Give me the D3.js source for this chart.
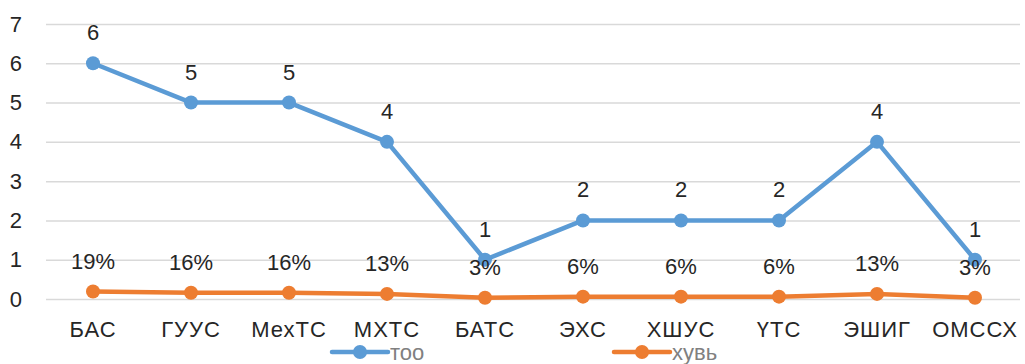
<!DOCTYPE html>
<html>
<head>
<meta charset="utf-8">
<script src="https://cdn.jsdelivr.net/npm/d3@7"></script>
<style>
  body { margin: 0; background: #fff; }
  text { font-family: 'Liberation Sans', Arial, sans-serif; }
</style>
</head>
<body>
<svg width="1025" height="364"></svg>
<script>
const categories = ['БАС', 'ГУУС', 'МехТС', 'МХТС', 'БАТС', 'ЭХС', 'ХШУС', 'ҮТС', 'ЭШИГ', 'ОМССХ'];
const tooValues = [6, 5, 5, 4, 1, 2, 2, 2, 4, 1];
const huviValues = [0.19, 0.16, 0.16, 0.13, 0.03, 0.06, 0.06, 0.06, 0.13, 0.03];
const yTicks = [0, 1, 2, 3, 4, 5, 6, 7];
const seriesNames = ['тоо', 'хувь'];

const svg = d3.select('svg');
const width = +svg.attr('width');
const margin = { top: 24, right: 1, left: 44 };
const innerWidth = width - margin.left - margin.right;
const plotBottom = 299;

const blue = '#5B9BD5';
const orange = '#ED7D31';
const fontSize = 22;

const xScale = d3.scaleBand().domain(categories).range([0, innerWidth]).padding(0);
const yScale = d3.scaleLinear().domain([0, 7]).range([plotBottom - margin.top, 0]);

const g = svg.append('g').attr('transform', `translate(${margin.left}, ${margin.top})`);

// grid + y labels
const yAxis = d3.axisLeft(yScale).tickValues(yTicks).tickFormat(d3.format('d'))
  .tickSize(-innerWidth + 4).tickPadding(22);
const ya = g.append('g').call(yAxis);
ya.select('.domain').remove();
ya.selectAll('.tick line').attr('stroke', '#d9d9d9').attr('stroke-width', 1.5).attr('x1', 2);
ya.selectAll('.tick text').attr('font-size', fontSize).attr('fill', '#262626')
  .attr('font-family', "'Liberation Sans', Arial, sans-serif");

// x labels
const xAxis = d3.axisBottom(xScale).tickSize(0).tickPadding(22);
const xa = g.append('g').attr('transform', `translate(0, ${yScale(0)})`).call(xAxis);
xa.select('.domain').remove();
xa.selectAll('.tick text').attr('font-size', fontSize).attr('fill', '#262626')
  .attr('letter-spacing', '1px')
  .attr('font-family', "'Liberation Sans', Arial, sans-serif");

const cx = (d, i) => xScale(categories[i]) + xScale.bandwidth() / 2;

function drawSeries(values, color, fmt) {
  const line = d3.line().x((d, i) => cx(d, i)).y(d => yScale(d));
  g.append('path').datum(values)
    .attr('fill', 'none').attr('stroke', color).attr('stroke-width', 4.5)
    .attr('stroke-linejoin', 'round').attr('d', line);
  g.selectAll(null).data(values).enter().append('circle')
    .attr('cx', cx).attr('cy', d => yScale(d)).attr('r', 7).attr('fill', color);
  g.selectAll(null).data(values).enter().append('text')
    .attr('x', cx).attr('y', d => yScale(d) - 23)
    .attr('text-anchor', 'middle').attr('font-size', fontSize).attr('fill', '#262626')
    .text(fmt);
}

drawSeries(tooValues, blue, d => d);
drawSeries(huviValues, orange, d => Math.round(d * 100) + '%');

// legend
const legend = svg.append('g');
const legendItems = [
  { name: seriesNames[0], color: blue, x: 332 },
  { name: seriesNames[1], color: orange, x: 614 }
];
legendItems.forEach(it => {
  const lg = legend.append('g').attr('transform', `translate(${it.x}, 352)`);
  lg.append('line').attr('x1', 0).attr('x2', 56).attr('y1', 0).attr('y2', 0)
    .attr('stroke', it.color).attr('stroke-width', 4.5).attr('stroke-linecap', 'round');
  lg.append('circle').attr('cx', 28).attr('cy', 0).attr('r', 7).attr('fill', it.color);
  lg.append('text').attr('x', 58).attr('y', 8).attr('font-size', fontSize).attr('fill', '#808080').text(it.name);
});
</script>
</body>
</html>
